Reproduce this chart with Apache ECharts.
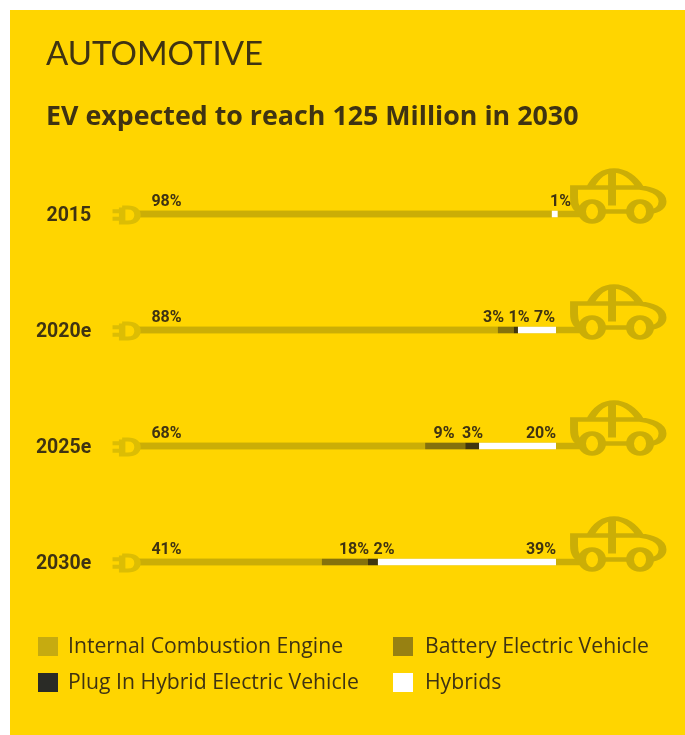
<!DOCTYPE html>
<html><head><meta charset="utf-8">
<script src="https://cdn.jsdelivr.net/npm/echarts@6/dist/echarts.min.js"></script>
<style>html,body{margin:0;padding:0;background:#fff}#c{width:685px;height:735px}</style>
</head><body><div id="c"></div>
<script>
// Data
const years = ['2015', '2020e', '2025e', '2030e'];
const seriesNames = ['Internal Combustion Engine', 'Battery Electric Vehicle', 'Plug In Hybrid Electric Vehicle', 'Hybrids'];
// Printed percentages
const iceLabels = [98, 88, 68, 41];
const bevLabels = [null, 3, 9, 18];
const phevLabels = [null, 1, 3, 2];
const hybridLabels = [1, 7, 20, 39];
// Segment lengths as actually drawn in the picture (the original is not to scale with its labels)
const iceDrawn = [99.0, 86.1, 68.7, 44.0];
const bevDrawn = [0, 3.8, 9.6, 11.0];
const phevDrawn = [0, 1.0, 3.3, 2.4];
const hybridDrawn = [1.4, 9.1, 18.4, 42.6];
const trackLength = [107, 107, 107, 107];

// Layout and style
const PX_PER_UNIT = 4.18, AXIS_MIN = -10, AXIS_MAX = 130, ZERO_PX = 138;
const TEXT = '#3f3312', FONT = 'Open Sans', LABEL_FONT = 'Roboto';
const ICE = '#cbae06', BEV = '#85720c', PHEV = '#40360f', HYB = '#ffffff', PLUG = '#dcbd04';
// Horizontal centre of each printed label, in page pixels
const labelCentres = {
  ice: [166.5, 166.5, 166.5, 166.5],
  bev: [0, 493.5, 444, 354],
  phev: [0, 519, 472.5, 384],
  hyb: [560.5, 544.5, 541, 541]
};
const CAR = 'path://M8 41C3 40 0 35 0 27L0 17L66 17C76 18 88.5 22 88.5 31C88.5 36 84 41 76 41M28 41L56 41M16 17C22 6 30 0 40 0C50 0 60 7 66 17M38 0L38 35M8 41A10 10 0 1 1 28 41A10 10 0 1 1 8 41M56 41A10 10 0 1 1 76 41A10 10 0 1 1 56 41';
const PLUGPATH = 'path://M0 4L10 4M0 12L10 12M10 0L10 16L16 16C22 16 26 13 26 8C26 3 22 0 16 0L10 0';

const sets = [
  {key: 'ice', drawn: iceDrawn, labels: iceLabels, color: ICE, name: seriesNames[0]},
  {key: 'bev', drawn: bevDrawn, labels: bevLabels, color: BEV, name: seriesNames[1]},
  {key: 'phev', drawn: phevDrawn, labels: phevLabels, color: PHEV, name: seriesNames[2]},
  {key: 'hyb', drawn: hybridDrawn, labels: hybridLabels, color: HYB, name: seriesNames[3]}
];
function starts(i) { // cumulative start of each set in row i
  let s = 0; const o = {};
  sets.forEach(d => { o[d.key] = s; s += d.drawn[i]; });
  return o;
}
const barSeries = sets.map(d => ({
  name: d.name, type: 'bar', stack: 'mix', barWidth: 6.5, z: 3,
  itemStyle: {color: d.color},
  data: d.drawn.map((v, i) => {
    const segCentre = ZERO_PX + (starts(i)[d.key] + v / 2) * PX_PER_UNIT;
    return {
      value: v,
      label: {
        show: d.labels[i] !== null, position: 'top', distance: 1,
        offset: [labelCentres[d.key][i] - segCentre, 0],
        formatter: d.labels[i] + '%',
        fontFamily: LABEL_FONT, fontWeight: 'bold', fontSize: 16, color: TEXT
      }
    };
  })
}));
function legendAt(name, left, top, swatch, gap) {
  return {
    left, top, padding: 0, orient: 'horizontal', itemWidth: 20, itemHeight: 19, itemGap: 0, selectedMode: false,
    icon: 'rect', textStyle: {fontFamily: FONT, fontSize: 21.2, color: TEXT, padding: [0, 0, 0, gap]},
    data: [{name, itemStyle: {color: swatch}}]
  };
}
const chart = echarts.init(document.getElementById('c'), null, {renderer: 'canvas'});
chart.setOption({
  animation: false,
  title: [
    {text: 'AUTOMOTIVE', left: 46, top: 38, padding: 0, textStyle: {fontFamily: 'Lato', fontSize: 33, fontWeight: 'normal', color: TEXT}},
    {text: 'EV expected to reach 125 Million in 2030', left: 46, top: 104, padding: 0, textStyle: {fontFamily: FONT, fontSize: 26.8, fontWeight: 'bold', color: TEXT}}
  ],
  legend: [
    legendAt(seriesNames[0], 38, 636, '#c6ab10', 5),
    legendAt(seriesNames[1], 393, 636, '#978112', 7),
    legendAt(seriesNames[2], 38, 672, '#2a2b26', 5),
    legendAt(seriesNames[3], 393, 672, '#ffffff', 7)
  ],
  graphic: [{type: 'rect', z: -1, silent: true, shape: {x: 10, y: 10, width: 675, height: 725}, style: {fill: '#ffd500'}}],
  grid: {left: ZERO_PX + AXIS_MIN * PX_PER_UNIT, width: (AXIS_MAX - AXIS_MIN) * PX_PER_UNIT, top: 156, height: 464, containLabel: false},
  xAxis: {type: 'value', min: AXIS_MIN, max: AXIS_MAX, show: false},
  yAxis: {
    type: 'category', inverse: true, data: years,
    axisLine: {show: false}, axisTick: {show: false},
    axisLabel: {margin: 5, fontFamily: LABEL_FONT, fontWeight: 'bold', fontSize: 19.5, color: TEXT, verticalAlign: 'top', lineHeight: 5}
  },
  series: [
    {name: 'track', type: 'bar', barWidth: 6.5, barGap: '-100%', z: 2, itemStyle: {color: ICE}, data: trackLength},
    ...barSeries,
    {name: 'car', type: 'scatter', z: 4, silent: true, symbol: CAR, symbolSize: [88.5, 51], symbolOffset: [0, -18],
     itemStyle: {color: 'rgba(0,0,0,0)', borderColor: ICE, borderWidth: 6, opacity: 1},
     data: years.map(y => [114.9, y])},
    {name: 'plug', type: 'scatter', z: 4, silent: true, symbol: PLUGPATH, symbolSize: [25, 15], symbolOffset: [0, 1],
     itemStyle: {color: 'rgba(0,0,0,0)', borderColor: PLUG, borderWidth: 5, opacity: 1},
     data: years.map(y => [-3.1, y])}
  ]
});
</script></body></html>
